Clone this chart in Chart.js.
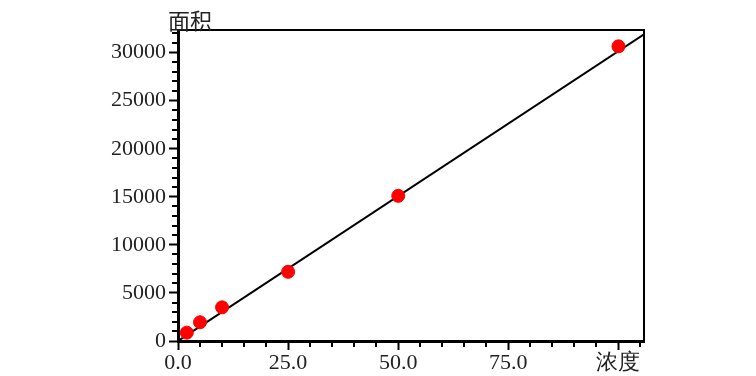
<!DOCTYPE html>
<html>
<head>
<meta charset="utf-8">
<script src="https://cdn.jsdelivr.net/npm/chart.js@4/dist/chart.umd.min.js"></script>
<style>
  html, body { margin: 0; padding: 0; background: #fff; }
  #wrap { width: 756px; height: 376px; }
</style>
</head>
<body>
<div id="wrap"><canvas id="chart"></canvas></div>
<script>
// calibration points
const conc = [2, 5, 10, 25, 50, 100];
const area = [870, 1950, 3500, 7200, 15100, 30650];

// fitted line, ends read at the plot edges
const fitX = [0, 105.8];
const fitY = [0, 31900];

const xMax = 105.8;
const yMax = 32350;
const xMinorStep = 5, xMajorStep = 25;
const yMinorStep = 1000, yMajorStep = 5000;
const xLabelName = "浓度";
const yLabelName = "面积";

const numFont = { family: "'Liberation Serif', serif", size: 22 };

function stepTicks(max, step) {
    const out = [];
    for (let v = 0; v <= max + 1e-9; v += step) out.push({ value: v });
    return out;
}

// short ticks between the labelled ones
const minorTicks = {
    id: "minorTicks",
    afterDraw(chart) {
        const c = chart.ctx;
        const xs = chart.scales.x, ys = chart.scales.y;
        c.save();
        c.strokeStyle = "#000";
        c.lineWidth = 2;
        c.beginPath();
        xs.ticks.forEach(t => {
            if (t.value % xMajorStep === 0) return;
            const px = Math.round(xs.getPixelForValue(t.value));
            c.moveTo(px, chart.chartArea.bottom);
            c.lineTo(px, chart.chartArea.bottom + 6);
        });
        ys.ticks.forEach(t => {
            if (t.value % yMajorStep === 0) return;
            const py = Math.round(ys.getPixelForValue(t.value));
            c.moveTo(chart.chartArea.left, py);
            c.lineTo(chart.chartArea.left - 6, py);
        });
        c.stroke();
        c.restore();
    }
};

// frame on top/right and the y name above the axis
const frame = {
    id: "frame",
    afterDraw(chart) {
        const c = chart.ctx;
        const a = chart.chartArea;
        c.save();
        c.strokeStyle = "#000";
        c.lineWidth = 2;
        c.beginPath();
        c.moveTo(a.left, a.top);
        c.lineTo(a.right, a.top);
        c.lineTo(a.right, a.bottom);
        c.stroke();
        c.fillStyle = "#222";
        c.font = "22px 'Noto Sans CJK SC'";
        c.textAlign = "left";
        c.textBaseline = "bottom";
        c.fillText(yLabelName, a.left - 10, a.top + 2);
        c.restore();
    }
};

const ctx = document.getElementById("chart").getContext("2d");

new Chart(ctx, {
    type: "scatter",
    data: {
        datasets: [
            {
                label: "fit",
                data: fitX.map((x, i) => ({ x: x, y: fitY[i] })),
                showLine: true,
                borderColor: "#000",
                borderWidth: 2,
                pointRadius: 0,
                order: 2
            },
            {
                label: "samples",
                data: conc.map((x, i) => ({ x: x, y: area[i] })),
                backgroundColor: "#ff0000",
                borderColor: "#ff0000",
                pointRadius: 6.5,
                order: 1
            }
        ]
    },
    options: {
        responsive: true,
        maintainAspectRatio: false,
        animation: false,
        layout: {
            padding: { left: 0, right: 112, top: 30, bottom: 0 }
        },
        scales: {
            x: {
                type: "linear",
                min: 0,
                max: xMax,
                afterBuildTicks: s => { s.ticks = stepTicks(xMax, xMinorStep); },
                afterFit: s => { s.height = 35; },
                border: { display: true, color: "#000", width: 3 },
                grid: {
                    drawOnChartArea: false,
                    tickLength: 9,
                    tickWidth: 2,
                    tickColor: c => (c.tick && c.tick.value % xMajorStep === 0) ? "#000" : "rgba(0,0,0,0)"
                },
                ticks: {
                    autoSkip: false,
                    maxRotation: 0,
                    padding: 0,
                    color: "#222",
                    font: numFont,
                    callback: v => v % xMajorStep !== 0 ? "" : (v === 100 ? xLabelName : v.toFixed(1))
                }
            },
            y: {
                type: "linear",
                min: 0,
                max: yMax,
                afterBuildTicks: s => { s.ticks = stepTicks(yMax, yMinorStep); },
                afterFit: s => { s.width = 178; },
                border: { display: true, color: "#000", width: 3 },
                grid: {
                    drawOnChartArea: false,
                    tickLength: 9,
                    tickWidth: 2,
                    tickColor: c => (c.tick && c.tick.value % yMajorStep === 0) ? "#000" : "rgba(0,0,0,0)"
                },
                ticks: {
                    autoSkip: false,
                    padding: 3,
                    color: "#222",
                    font: numFont,
                    callback: v => v % yMajorStep === 0 ? String(v) : ""
                }
            }
        },
        plugins: {
            legend: { display: false },
            tooltip: { enabled: false }
        }
    },
    plugins: [minorTicks, frame]
});
</script>
</body>
</html>
